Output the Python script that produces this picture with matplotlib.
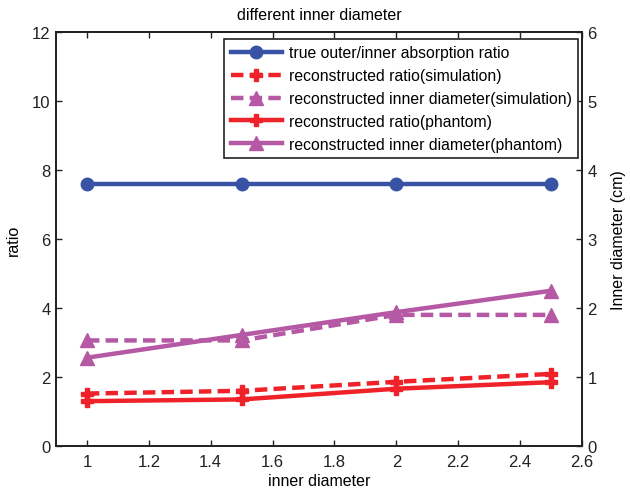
import matplotlib
matplotlib.use("Agg")
import matplotlib.pyplot as plt

plt.rcParams['font.family'] = ['Liberation Sans', 'DejaVu Sans']

# inner diameter of the phantom (cm)
diameters = [1.0, 1.5, 2.0, 2.5]

# absorption ratios (left axis)
true_ratio = [7.6, 7.6, 7.6, 7.6]
ratio_sim = [1.52, 1.60, 1.86, 2.09]
ratio_phantom = [1.30, 1.35, 1.66, 1.85]

# reconstructed inner diameter in cm (right axis)
diam_sim = [1.53, 1.53, 1.90, 1.90]
diam_phantom = [1.28, 1.61, 1.94, 2.25]

blue = '#3953a4'
red = '#ee2228'
magenta = '#b659a4'

fig = plt.figure(figsize=(6.3, 4.89), dpi=100)
ax = fig.add_axes([56/630, 1 - 447/489, (582-56)/630, (447-33)/489])
ax2 = ax.twinx()

lw = 3.2
dash = (2.8, 1.4)
h1, = ax.plot(diameters, true_ratio, '-o', color=blue, lw=lw, ms=9,
              label='true outer/inner absorption ratio')
h2, = ax.plot(diameters, ratio_sim, '--P', color=red, lw=lw, ms=8,
              dashes=dash, label='reconstructed ratio(simulation)')
h4, = ax.plot(diameters, ratio_phantom, '-P', color=red, lw=lw, ms=8,
              label='reconstructed ratio(phantom)')
h3, = ax2.plot(diameters, diam_sim, '--^', color=magenta, lw=lw, ms=10,
               dashes=dash, label='reconstructed inner diameter(simulation)')
h5, = ax2.plot(diameters, diam_phantom, '-^', color=magenta, lw=lw, ms=10,
               label='reconstructed inner diameter(phantom)')

ax.set_xlim(0.9, 2.6)
ax.set_ylim(0, 12)
ax2.set_ylim(0, 6)
ax.set_xticks([1, 1.2, 1.4, 1.6, 1.8, 2, 2.2, 2.4, 2.6])
ax.set_xticklabels(['1', '1.2', '1.4', '1.6', '1.8', '2', '2.2', '2.4', '2.6'])
ax.set_yticks(range(0, 13, 2))
ax2.set_yticks(range(0, 7))

for a in (ax, ax2):
    a.tick_params(direction='in', length=4, width=1, labelsize=12,
                  color='#222222', labelcolor='#222222', pad=4)
    for s in a.spines.values():
        s.set_linewidth(1.3)
        s.set_color('#222222')
ax.tick_params(top=True)
ax.tick_params(axis='x', pad=6)

ax.set_xlabel('inner diameter', fontsize=11.5, labelpad=3)
ax.set_ylabel('ratio', fontsize=11.5, labelpad=8)
ax2.set_ylabel('Inner diameter (cm)', fontsize=11.5, labelpad=10)
ax.set_title('different inner diameter', fontsize=11.5, pad=9)

leg = ax2.legend(handles=[h1, h2, h3, h4, h5], loc='upper right',
                 bbox_to_anchor=(0.992, 0.983), borderaxespad=0,
                 fontsize=11.3, handlelength=3.3, handletextpad=0.4,
                 borderpad=0.4, labelspacing=0.5, fancybox=False,
                 framealpha=1, edgecolor='#222222')
leg.get_frame().set_linewidth(1.2)

fig.savefig('out.png', dpi=100)
